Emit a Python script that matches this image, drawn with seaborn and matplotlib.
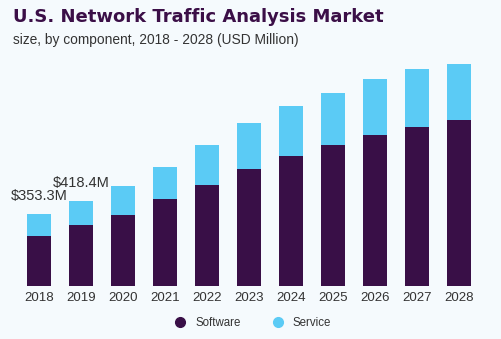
import matplotlib
matplotlib.use("Agg")
import matplotlib.pyplot as plt
import seaborn as sns
import pandas as pd
from matplotlib.lines import Line2D

years = ["2018", "2019", "2020", "2021", "2022", "2023", "2024", "2025", "2026", "2027", "2028"]
software = [247, 298, 350, 425, 496, 572, 638, 690, 742, 779, 813]
service = [106.3, 120.4, 141, 160, 194, 226, 244, 255, 274, 284, 278]
labels = {0: "$353.3M", 1: "$418.4M"}

BG = "#F5FAFD"
C_SOFT = "#390F47"
C_SERV = "#5BCBF5"

sns.set_theme(style="white")
plt.rcParams['font.family'] = ['Liberation Sans', 'DejaVu Sans']

df = pd.DataFrame({"year": years, "software": software, "service": service})
df["total"] = df["software"] + df["service"]

fig = plt.figure(figsize=(5.01, 3.39), dpi=100, facecolor=BG)
ax = fig.add_axes([0, (339 - 286) / 339, 1, 286 / 339])
ax.set_facecolor(BG)

sns.barplot(data=df, x="year", y="total", color=C_SERV, width=24 / 42, saturation=1,
            linewidth=0, ax=ax)
sns.barplot(data=df, x="year", y="software", color=C_SOFT, width=24 / 42, saturation=1,
            linewidth=0, ax=ax)

ax.set_xlim(-39 / 42, (501 - 39) / 42)
ax.set_ylim(0, 286 * 4.906)
for s in ax.spines.values():
    s.set_visible(False)
ax.set_xlabel("")
ax.set_ylabel("")
ax.set_yticks([])
ax.tick_params(axis="x", length=0, pad=4, labelsize=9.5, labelcolor="#333333")

for i, t in labels.items():
    ax.annotate(t, (i, df["total"][i]), xytext=(0, 8), textcoords="offset points",
                ha="center", va="bottom", fontsize=10.5, color="#333333")

fig.text(13 / 501, 1 - 22 / 339, "U.S. Network Traffic Analysis Market", fontsize=13,
         fontweight="bold", color="#3B0F47", ha="left", va="baseline", family="DejaVu Sans")
fig.text(13 / 501, 1 - 44 / 339, "size, by component, 2018 - 2028 (USD Million)", fontsize=9.9,
         color="#333333", ha="left", va="baseline")

handles = [Line2D([], [], marker="o", linestyle="", markersize=7, color=C_SOFT, label="Software"),
           Line2D([], [], marker="o", linestyle="", markersize=7, color=C_SERV, label="Service")]
fig.legend(handles=handles, loc="center", bbox_to_anchor=(250 / 501, 1 - 323 / 339), ncol=2,
           frameon=False, fontsize=8.3, handletextpad=0.3, columnspacing=2.2, labelcolor="#333333")

fig.savefig("out.png", dpi=100, facecolor=BG)
